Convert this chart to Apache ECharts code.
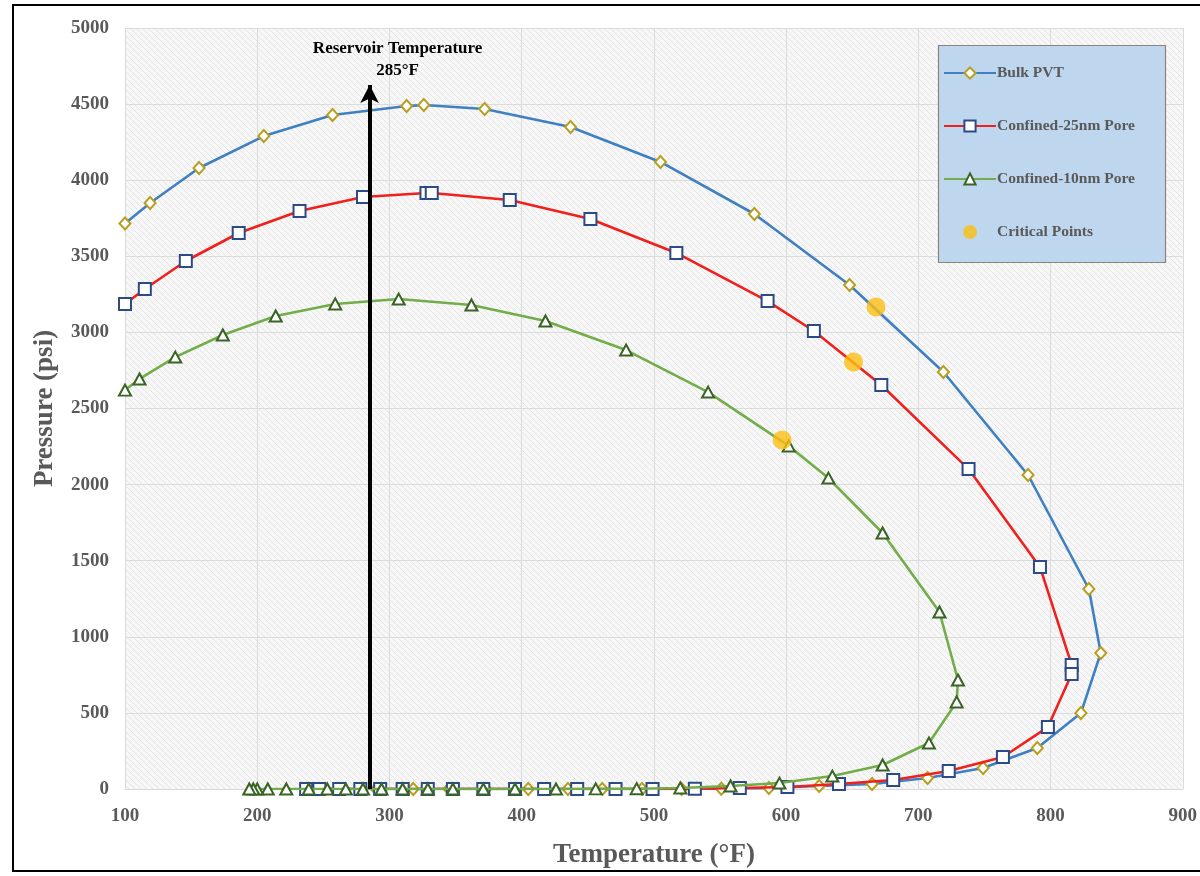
<!DOCTYPE html>
<html>
<head>
<meta charset="utf-8">
<script src="https://cdn.jsdelivr.net/npm/echarts@6/dist/echarts.min.js"></script>
<style>
  html, body { margin: 0; padding: 0; background: #ffffff; }
  #chart { width: 1200px; height: 876px; }
</style>
</head>
<body>
<div id="chart"></div>
<script>
// Phase envelopes: [temperature °F, pressure psi], traced around the envelope
const bulkPVT = [
  [100, 3715], [119, 3850], [156, 4080], [205, 4290], [257, 4428], [313, 4487],
  [326, 4494], [372, 4468], [437, 4350], [505, 4120], [576, 3778], [648, 3311],
  [719, 2740], [783, 2063], [829, 1314], [838, 894], [823, 499], [790, 269],
  [749, 138], [707, 72], [665, 33], [625, 20], [587, 7], [551, 2], [521, 0],
  [491, 0], [461, 0], [435, 0], [405, 0], [373, 0], [345, 0], [318, 0],
  [290, 0], [262, 0], [237, 0]
];
const confined25nm = [
  [100, 3187], [115, 3285], [146, 3469], [186, 3653], [232, 3798], [280, 3890],
  [328, 3916], [332, 3916], [391, 3870], [452, 3745], [517, 3522], [586, 3206],
  [621, 3009], [672, 2654], [738, 2102], [792, 1459], [816, 815], [816, 756],
  [798, 407], [764, 210], [723, 118], [681, 59], [640, 33], [601, 13],
  [565, 7], [531, 2], [499, 0], [471, 0], [442, 0], [417, 0], [395, 0],
  [371, 0], [348, 0], [329, 0], [310, 0], [293, 0], [278, 0], [262, 0],
  [247, 0], [237, 0]
];
const confined10nm = [
  [100, 2621], [111, 2694], [138, 2838], [174, 2983], [214, 3108], [259, 3187],
  [307, 3219], [362, 3180], [418, 3075], [479, 2884], [541, 2608], [602, 2254],
  [632, 2043], [673, 1682], [716, 1163], [730, 716], [729, 572], [708, 302],
  [673, 158], [635, 85], [595, 39], [558, 20], [520, 7], [487, 2], [456, 1],
  [426, 0], [395, 0], [371, 0], [348, 0], [329, 0], [310, 0], [294, 0],
  [280, 0], [267, 0], [253, 0], [239, 0], [222, 0], [208, 0], [200, 0],
  [197, 0], [194, 0]
];
const criticalPoints = [[668, 3167], [651, 2805], [597, 2293]];

const seriesNames = ['Bulk PVT', 'Confined-25nm Pore', 'Confined-10nm Pore', 'Critical Points'];
const reservoirTemp = 285;
const arrowTopPressure = 4625;
const annotationLines = ['Reservoir Temperature', '285°F'];

// light diagonal hatch for the plotting area
function hatchPattern() {
  const c = document.createElement('canvas');
  c.width = 6; c.height = 6;
  const ctx = c.getContext('2d');
  ctx.fillStyle = '#f7f7f7';
  ctx.fillRect(0, 0, 6, 6);
  ctx.strokeStyle = '#e4e4e4';
  ctx.lineWidth = 1;
  ctx.beginPath();
  ctx.moveTo(-1, -1); ctx.lineTo(7, 7);
  ctx.moveTo(-1, 5); ctx.lineTo(1, 7);
  ctx.moveTo(5, -1); ctx.lineTo(7, 1);
  ctx.stroke();
  return c;
}

const serif = '"Liberation Serif", "DejaVu Serif", serif';
const tickText = { fontFamily: serif, fontWeight: 'bold', fontSize: 19, color: '#595959' };
const nameText = { fontFamily: serif, fontWeight: 'bold', fontSize: 27, color: '#595959' };

const chart = echarts.init(document.getElementById('chart'), null, { renderer: 'canvas' });

const option = {
  animation: false,
  backgroundColor: '#ffffff',
  grid: {
    left: 125, right: 12, top: 28, bottom: 87,
    show: true,
    borderWidth: 0,
    backgroundColor: { image: hatchPattern(), repeat: 'repeat' }
  },
  xAxis: {
    type: 'value', min: 100, max: 900, interval: 100,
    name: 'Temperature (°F)', nameLocation: 'middle', nameGap: 53,
    nameTextStyle: nameText,
    axisLine: { show: true, lineStyle: { color: '#d9d9d9', width: 1 } },
    axisTick: { show: false },
    axisLabel: Object.assign({ margin: 18 }, tickText),
    splitLine: { show: true, lineStyle: { color: '#dcdcdc', width: 1 } }
  },
  yAxis: {
    type: 'value', min: 0, max: 5000, interval: 500,
    name: 'Pressure (psi)', nameLocation: 'middle', nameGap: 66,
    nameTextStyle: nameText,
    axisLine: { show: false },
    axisTick: { show: false },
    axisLabel: Object.assign({ margin: 16, formatter: v => String(v) }, tickText),
    splitLine: { show: true, lineStyle: { color: '#dcdcdc', width: 1 } }
  },
  legend: {
    orient: 'vertical',
    left: 943, top: 65,
    padding: 0,
    itemWidth: 52, itemHeight: 14, itemGap: 37,
    z: 10,
    textStyle: { fontFamily: serif, fontWeight: 'bold', fontSize: 15.5, color: '#595959', padding: [0, 0, 0, -4] },
    data: seriesNames
  },
  graphic: [
    {
      type: 'rect', z: 5, silent: true,
      shape: { x: 938.5, y: 45.5, width: 227, height: 217 },
      style: { fill: '#bed6ee', stroke: '#8e8379', lineWidth: 1.2 }
    },
    {
      type: 'rect', z: 1, silent: true,
      shape: { x: 13, y: 5, width: 1220, height: 866 },
      style: { fill: 'none', stroke: '#000000', lineWidth: 2 }
    }
  ],
  series: [
    {
      name: seriesNames[0], type: 'line', data: bulkPVT, z: 2,
      symbol: 'diamond', symbolSize: [11, 12],
      lineStyle: { color: '#3f80c2', width: 2.6 },
      itemStyle: { color: '#ffffff', borderColor: '#b89e1e', borderWidth: 2 },
      markLine: {
        silent: true,
        symbol: ['none', 'arrow'], symbolSize: [14, 18],
        lineStyle: { color: '#000000', width: 4, type: 'solid' },
        label: { show: false },
        data: [[{ coord: [reservoirTemp, 0] }, { coord: [reservoirTemp, arrowTopPressure] }]]
      }
    },
    {
      name: seriesNames[1], type: 'line', data: confined25nm, z: 3,
      symbol: 'rect', symbolSize: 12,
      lineStyle: { color: '#f0201c', width: 2.6 },
      itemStyle: { color: '#ffffff', borderColor: '#2c4a86', borderWidth: 2 }
    },
    {
      name: seriesNames[2], type: 'line', data: confined10nm, z: 4,
      symbol: 'triangle', symbolSize: [12, 11],
      lineStyle: { color: '#72ad4a', width: 2.6 },
      itemStyle: { color: '#ffffff', borderColor: '#3a6426', borderWidth: 2 }
    },
    {
      name: seriesNames[3], type: 'scatter', data: criticalPoints, z: 6,
      symbol: 'circle', symbolSize: 19,
      itemStyle: { color: '#fdbe12' }
    }
  ]
};

chart.setOption(option);

// annotation text above the reservoir temperature arrow
const tip = chart.convertToPixel({ gridIndex: 0 }, [reservoirTemp, arrowTopPressure]);
chart.setOption({
  graphic: [
    option.graphic[0],
    option.graphic[1],
    {
      type: 'text', z: 10, silent: true,
      x: tip[0] + 28, y: tip[1] - 47,
      style: {
        text: annotationLines.join('\n'),
        fontFamily: serif, fontWeight: 'bold', fontSize: 17, lineHeight: 22,
        fill: '#000000', align: 'center', verticalAlign: 'top'
      }
    }
  ]
});
</script>
</body>
</html>
